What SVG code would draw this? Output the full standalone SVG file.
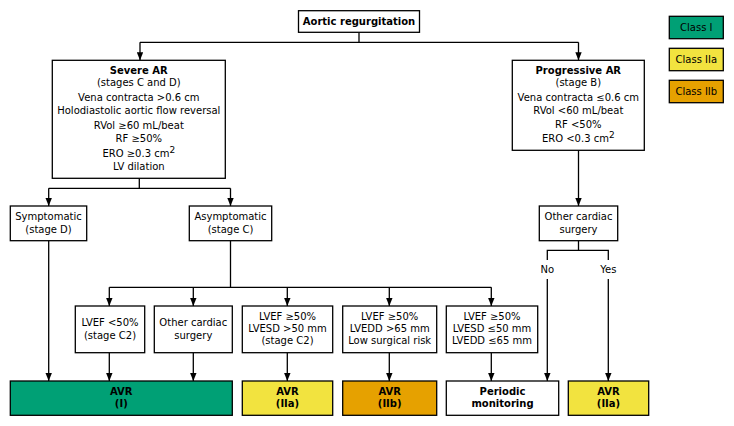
<svg xmlns="http://www.w3.org/2000/svg" width="734" height="426" viewBox="0 0 734 426">
<defs>
<marker id="ah" viewBox="0 0 10 8" refX="10" refY="4" markerWidth="8" markerHeight="6.6" markerUnits="userSpaceOnUse" orient="auto">
<path d="M0,0 L10,4 L0,8 Z" fill="#000"/>
</marker>
<style>
rect.w,rect.g,rect.y,rect.o{stroke:#000;stroke-width:1.3}
.w{fill:#fff}
.g{fill:#00A075}
.y{fill:#F2E33F}
.o{fill:#E6A100}
text{font-family:"DejaVu Sans","Verdana",sans-serif;font-size:10px;fill:#000;text-anchor:middle}
.b{font-weight:bold}
.c line,.c polyline{stroke:#000;stroke-width:1.3;fill:none}
.a{marker-end:url(#ah)}
</style>
</defs>
<rect x="0" y="0" width="734" height="426" fill="#fff"/>
<g class="c" id="connectors">
<line x1="359" y1="32.5" x2="359" y2="42.3"/>
<line x1="140" y1="42.3" x2="578.5" y2="42.3"/>
<line class="a" x1="140" y1="42.3" x2="140" y2="60.3"/>
<line class="a" x1="578.5" y1="42.3" x2="578.5" y2="60.3"/>
<line x1="139.3" y1="178.3" x2="139.3" y2="188.3"/>
<line x1="48.7" y1="188.3" x2="230.5" y2="188.3"/>
<line class="a" x1="48.7" y1="188.3" x2="48.7" y2="206"/>
<line class="a" x1="230.5" y1="188.3" x2="230.5" y2="206"/>
<line class="a" x1="48.7" y1="240.7" x2="48.7" y2="381"/>
<line x1="230.5" y1="240.7" x2="230.5" y2="287.3"/>
<line x1="109.3" y1="287.3" x2="491.3" y2="287.3"/>
<line class="a" x1="109.3" y1="287.3" x2="109.3" y2="306"/>
<line class="a" x1="193.3" y1="287.3" x2="193.3" y2="306"/>
<line class="a" x1="287.3" y1="287.3" x2="287.3" y2="306"/>
<line class="a" x1="389.3" y1="287.3" x2="389.3" y2="306"/>
<line class="a" x1="491.3" y1="287.3" x2="491.3" y2="306"/>
<line class="a" x1="109.3" y1="352.7" x2="109.3" y2="381"/>
<line class="a" x1="193.3" y1="352.7" x2="193.3" y2="381"/>
<line class="a" x1="287.3" y1="352.7" x2="287.3" y2="381"/>
<line class="a" x1="389.3" y1="352.7" x2="389.3" y2="381"/>
<line class="a" x1="491.3" y1="352.7" x2="491.3" y2="381"/>
<line class="a" x1="578.5" y1="150.3" x2="578.5" y2="206"/>
<line x1="578.5" y1="240.7" x2="578.5" y2="250.3"/>
<polyline points="547.3,260 547.3,250.3 608.3,250.3 608.3,260"/>
<line class="a" x1="547.3" y1="279" x2="547.3" y2="381"/>
<line class="a" x1="608.3" y1="279" x2="608.3" y2="381"/>
<text x="547.3" y="273.3">No</text>
<text x="608.3" y="273.3">Yes</text>
</g>
<g id="n-title"><rect class="w" x="298.5" y="10.7" width="121" height="21.6"/><text class="b" x="359" y="25">Aortic regurgitation</text></g>
<g id="n-severe"><rect class="w" x="52.3" y="60.3" width="173" height="118"/>
<text x="138.8" y="74.3" class="b">Severe AR</text>
<text x="138.8" y="85.5">(stages C and D)</text>
<text x="138.8" y="100.8">Vena contracta &gt;0.6 cm</text>
<text x="138.8" y="114.2">Holodiastolic aortic flow reversal</text>
<text x="138.8" y="128.5">RVol ≥60 mL/beat</text>
<text x="138.8" y="141.8">RF ≥50%</text>
<text x="138.8" y="156.5">ERO ≥0.3 cm<tspan dy="-4" font-size="9">2</tspan></text>
<text x="138.8" y="170.2">LV dilation</text>
</g>
<g id="n-progressive"><rect class="w" x="512.3" y="60.3" width="132" height="90"/>
<text x="578.3" y="74.3" class="b">Progressive AR</text>
<text x="578.3" y="86.3">(stage B)</text>
<text x="578.3" y="100.8">Vena contracta ≤0.6 cm</text>
<text x="578.3" y="113.5">RVol &lt;60 mL/beat</text>
<text x="578.3" y="127.8">RF &lt;50%</text>
<text x="578.3" y="141.8">ERO &lt;0.3 cm<tspan dy="-4" font-size="9">2</tspan></text>
</g>
<g id="n-symptomatic"><rect class="w" x="10.3" y="206" width="76.4" height="34.7"/>
<text x="48.5" y="220.2">Symptomatic</text><text x="48.5" y="232.6">(stage D)</text></g>
<g id="n-asymptomatic"><rect class="w" x="189.3" y="206" width="82.4" height="34.7"/>
<text x="230.5" y="220.2">Asymptomatic</text><text x="230.5" y="232.6">(stage C)</text></g>
<g id="n-other-right"><rect class="w" x="539.3" y="206" width="78.4" height="34.7"/>
<text x="578.5" y="220.2">Other cardiac</text><text x="578.5" y="232.6">surgery</text></g>
<g id="n-lvef50"><rect class="w" x="75.3" y="306" width="69.4" height="46.7"/>
<text x="110" y="326.2">LVEF &lt;50%</text><text x="110" y="338.5">(stage C2)</text></g>
<g id="n-other-left"><rect class="w" x="154.3" y="306" width="78" height="46.7"/>
<text x="193.3" y="326.2">Other cardiac</text><text x="193.3" y="338.5">surgery</text></g>
<g id="n-lvesd50"><rect class="w" x="242.3" y="306" width="90.4" height="46.7"/>
<text x="287.5" y="320.2">LVEF ≥50%</text><text x="287.5" y="332.2">LVESD &gt;50 mm</text><text x="287.5" y="344.2">(stage C2)</text></g>
<g id="n-lvedd65"><rect class="w" x="342.7" y="306" width="94" height="46.7"/>
<text x="389.7" y="320.2">LVEF ≥50%</text><text x="389.7" y="332.2">LVEDD &gt;65 mm</text><text x="389.7" y="344.2">Low surgical risk</text></g>
<g id="n-normal"><rect class="w" x="446.3" y="306" width="91.4" height="46.7"/>
<text x="492" y="320.2">LVEF ≥50%</text><text x="492" y="332.2">LVESD ≤50 mm</text><text x="492" y="344.2">LVEDD ≤65 mm</text></g>
<g id="n-avr1"><rect class="g" x="10.3" y="381" width="222" height="34.3"/>
<text class="b" x="121.3" y="395.2">AVR</text><text class="b" x="121.3" y="406.8">(I)</text></g>
<g id="n-avr2a"><rect class="y" x="242.3" y="381" width="90.4" height="34.3"/>
<text class="b" x="287.5" y="395.2">AVR</text><text class="b" x="287.5" y="406.8">(IIa)</text></g>
<g id="n-avr2b"><rect class="o" x="342.7" y="381" width="94" height="34.3"/>
<text class="b" x="389.7" y="395.2">AVR</text><text class="b" x="389.7" y="406.8">(IIb)</text></g>
<g id="n-periodic"><rect class="w" x="446.3" y="381" width="112.4" height="34.3"/>
<text class="b" x="502.5" y="395.2">Periodic</text><text class="b" x="502.5" y="406.8">monitoring</text></g>
<g id="n-avr2a-right"><rect class="y" x="568.3" y="381" width="80.4" height="34.3"/>
<text class="b" x="608.5" y="395.2">AVR</text><text class="b" x="608.5" y="406.8">(IIa)</text></g>
<g id="legend">
<g id="l-1"><rect class="g" x="669.3" y="16.3" width="54" height="22.4"/><text x="696.3" y="31">Class I</text></g>
<g id="l-2a"><rect class="y" x="669.3" y="48.3" width="54" height="22.4"/><text x="696.3" y="63">Class IIa</text></g>
<g id="l-2b"><rect class="o" x="669.3" y="80.3" width="54" height="22.4"/><text x="696.3" y="95">Class IIb</text></g>
</g>
</svg>
